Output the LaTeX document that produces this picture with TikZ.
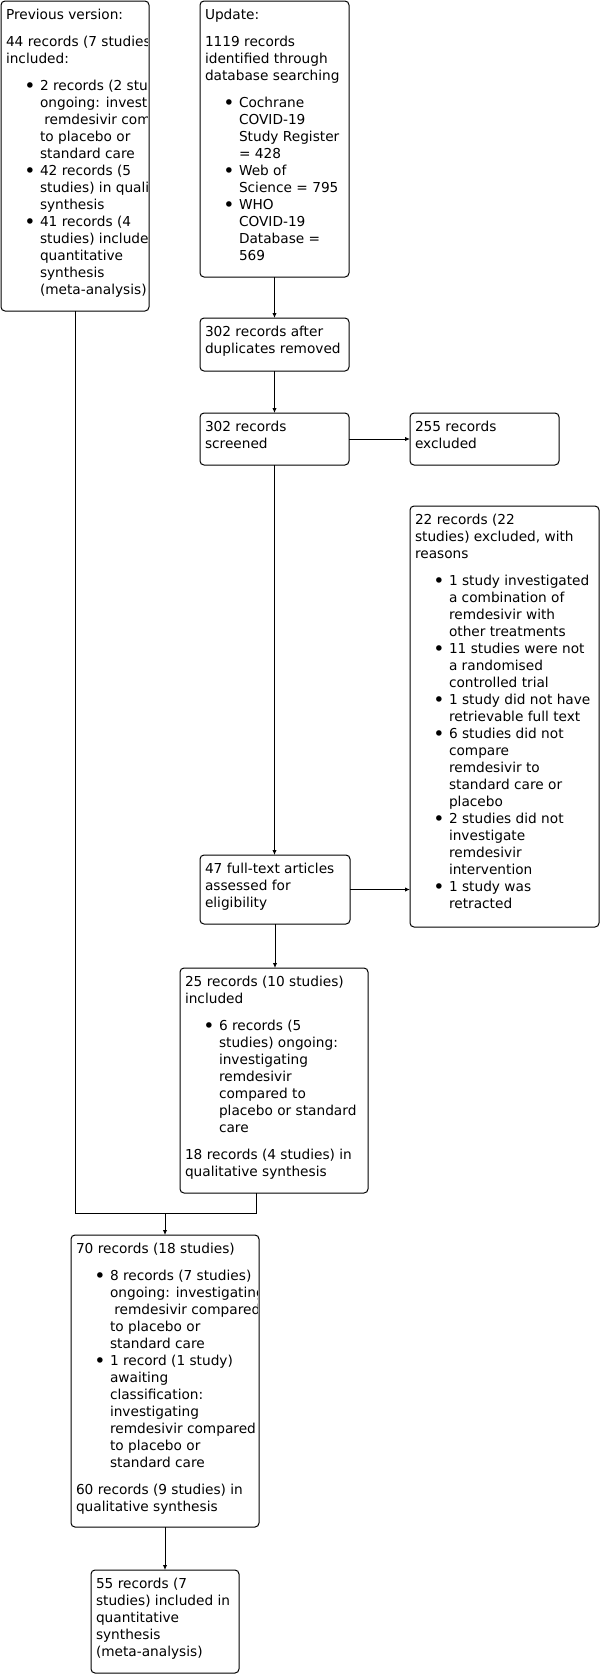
\documentclass[tikz,border=0pt]{standalone}
\usepackage{fontspec}
\setmainfont{DejaVu Sans}
\usetikzlibrary{arrows.meta}
\newcommand\bul{\llap{\makebox[20pt][c]{\raisebox{-2.2pt}{\fontsize{19}{19}\selectfont •}}}}
\newcommand\bi[1]{\hspace*{34pt}\bul #1}
\newcommand\ci[1]{\hspace*{34pt}#1}
\newcommand\fs{\rule{0pt}{11pt}}
\tikzset{
  box/.style={draw, line width=1pt, rounded corners=4pt, outer sep=0pt, inner sep=0pt, anchor=north west},
  txt/.style={anchor=north west, inner sep=0pt, outer sep=0pt, align=left, font=\fontsize{13.7}{17}\selectfont},
  arr/.style={-{Latex[length=5pt,width=4.5pt]}, line width=1pt},
  ln/.style={line width=1pt}
}
\begin{document}
\begin{tikzpicture}[x=1pt,y=-1pt]
\useasboundingbox[fill=white] (0,0) rectangle (601,1674);
% boxes
\node[box, minimum width=148pt, minimum height=310pt] (prev) at (1,1) {};
\node[box, minimum width=149pt, minimum height=276pt] (upd) at (200,1) {};
\node[box, minimum width=149pt, minimum height=53pt] (dup) at (200,318) {};
\node[box, minimum width=149pt, minimum height=52pt] (scr) at (200,413) {};
\node[box, minimum width=149pt, minimum height=52pt] (exc) at (410,413) {};
\node[box, minimum width=189pt, minimum height=421pt] (reas) at (410,506) {};
\node[box, minimum width=150pt, minimum height=69pt] (full) at (200,855) {};
\node[box, minimum width=188pt, minimum height=225pt] (inc) at (180,968) {};
\node[box, minimum width=188pt, minimum height=292pt] (tot) at (71,1235) {};
\node[box, minimum width=148pt, minimum height=103pt] (meta) at (91,1570) {};
% texts
\begin{scope}
\clip ([shift={(1,1)}]prev.north west) rectangle ([shift={(-2,-1)}]prev.south east);
\node[txt] (prevt) at ([shift={(5,7)}]prev.north west) {\fs Previous version:\\[10pt]
44 records (7 studies)\\included:\\[10pt]
\bi{2 records (2 studies)}\\
\ci{ongoing: investigating}\\
\ci{\ remdesivir compared}\\
\ci{to placebo or}\\
\ci{standard care}\\
\bi{42 records (5}\\
\ci{studies) in qualitative}\\
\ci{synthesis}\\
\bi{41 records (4}\\
\ci{studies) included in}\\
\ci{quantitative}\\
\ci{synthesis}\\
\ci{(meta-analysis)}};
\end{scope}
\node[txt] (updt) at ([shift={(5,7)}]upd.north west) {\fs Update:\\[10pt]
1119 records\\identified through\\database searching\\[10pt]
\bi{Cochrane}\\
\ci{COVID-19}\\
\ci{Study Register}\\
\ci{= 428}\\
\bi{Web of}\\
\ci{Science = 795}\\
\bi{WHO}\\
\ci{COVID-19}\\
\ci{Database =}\\
\ci{569}};
\node[txt] (dupt) at ([shift={(5,7)}]dup.north west) {\fs 302 records after\\duplicates removed};
\node[txt] (scrt) at ([shift={(5,7)}]scr.north west) {\fs 302 records\\screened};
\node[txt] (exct) at ([shift={(5,7)}]exc.north west) {\fs 255 records\\excluded};
\node[txt] (reast) at ([shift={(5,7)}]reas.north west) {\fs 22 records (22\\studies) excluded, with\\reasons\\[10pt]
\bi{1 study investigated}\\
\ci{a combination of}\\
\ci{remdesivir with}\\
\ci{other treatments}\\
\bi{11 studies were not}\\
\ci{a randomised}\\
\ci{controlled trial}\\
\bi{1 study did not have}\\
\ci{retrievable full text}\\
\bi{6 studies did not}\\
\ci{compare}\\
\ci{remdesivir to}\\
\ci{standard care or}\\
\ci{placebo}\\
\bi{2 studies did not}\\
\ci{investigate}\\
\ci{remdesivir}\\
\ci{intervention}\\
\bi{1 study was}\\
\ci{retracted}};
\node[txt] (fullt) at ([shift={(5,7)}]full.north west) {\fs 47 full-text articles\\assessed for\\eligibility};
\node[txt] (inct) at ([shift={(5,7)}]inc.north west) {\fs 25 records (10 studies)\\included\\[10pt]
\bi{6 records (5}\\
\ci{studies) ongoing:}\\
\ci{investigating}\\
\ci{remdesivir}\\
\ci{compared to}\\
\ci{placebo or standard}\\
\ci{care}\\[10pt]
18 records (4 studies) in\\qualitative synthesis};
\begin{scope}
\clip ([shift={(1,1)}]tot.north west) rectangle ([shift={(-2,-1)}]tot.south east);
\node[txt] (tott) at ([shift={(5,7)}]tot.north west) {\fs 70 records (18 studies)\\[10pt]
\bi{8 records (7 studies)}\\
\ci{ongoing: investigating}\\
\ci{\ remdesivir compared}\\
\ci{to placebo or}\\
\ci{standard care}\\
\bi{1 record (1 study)}\\
\ci{awaiting}\\
\ci{classification:}\\
\ci{investigating}\\
\ci{remdesivir compared}\\
\ci{to placebo or}\\
\ci{standard care}\\[10pt]
60 records (9 studies) in\\qualitative synthesis};
\end{scope}
\node[txt] (metat) at ([shift={(5,7)}]meta.north west) {\fs 55 records (7\\studies) included in\\quantitative\\synthesis\\(meta-analysis)};
% connectors
\draw[arr] (upd) -- (dup);
\draw[arr] (dup) -- (scr);
\draw[arr] (scr.south) -- (scr.south |- full.north);
\draw[arr] (scr.east) -- (exc.west);
\draw[arr] (full.east) -- (full.east -| reas.west);
\draw[arr] (full.south) -- (full.south |- inc.north);
\coordinate (incb) at ([xshift=-18pt]inc.south);
\coordinate (j) at (165,1213);
\draw[ln] (prev.south) |- (j) -| (incb);
\draw[arr] (j) -- (j |- tot.north);
\draw[arr] (tot) -- (meta);
\end{tikzpicture}
\end{document}
